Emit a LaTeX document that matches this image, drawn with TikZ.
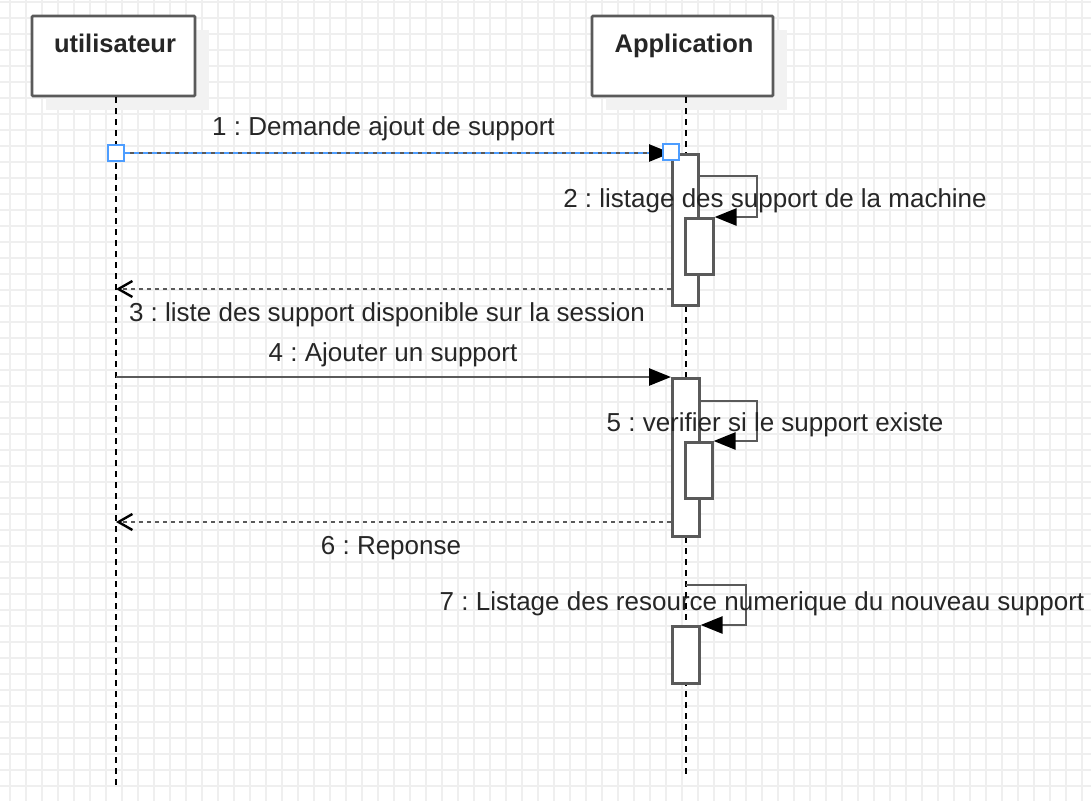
\documentclass[tikz,border=0pt]{standalone}
\usepackage{fontspec}
\setmainfont{Liberation Sans}
\usetikzlibrary{arrows.meta}
\definecolor{gridc}{HTML}{EFEFEF}
\definecolor{linec}{HTML}{5A5A5A}
\definecolor{txtc}{HTML}{262626}
\definecolor{selblue}{HTML}{4D9DFF}
\definecolor{shadowc}{HTML}{F2F2F2}
\frenchspacing
\begin{document}
\begin{tikzpicture}[x=1pt,y=-1pt,
  gridline/.style={draw=gridc,line width=1.6pt},
  participant/.style={draw=linec,fill=white,line width=2.8pt,minimum height=80pt,inner sep=0pt,rounded corners=1pt},
  pshadow/.style={fill=shadowc,minimum height=80pt,inner sep=0pt},
  ptitle/.style={anchor=base,font=\fontsize{25.5}{30}\selectfont\bfseries,text=txtc,inner sep=0pt},
  msglabel/.style={anchor=base,font=\fontsize{26}{30}\selectfont,text=txtc,inner sep=0pt},
  lifeline/.style={draw=black,line width=2.3pt,dash pattern=on 6pt off 5pt},
  bar/.style={draw=linec,fill=white,line width=2.6pt,minimum width=26pt,inner sep=0pt,anchor=north west},
  call/.style={draw=linec,line width=2.6pt,-{Triangle[length=22pt,width=17pt,color=black]}},
  ret/.style={draw=linec,line width=2.4pt,dash pattern=on 4pt off 4pt,-{Straight Barb[length=14pt,width=16pt,color=black]}},
  handle/.style={draw=selblue,fill=white,line width=2pt,minimum size=16pt,inner sep=0pt},
]
\useasboundingbox (0,0) rectangle (1091,801);
\fill[white] (0,0) rectangle (1091,801);
% grid
\foreach \gx in {10,26,...,1090} \draw[gridline] (\gx,0) -- (\gx,801);
\foreach \gy in {2,18,...,800} \draw[gridline] (0,\gy) -- (1091,\gy);

% participants
\node[pshadow,minimum width=163pt] (usershadow) at (127.5,70) {};
\node[pshadow,minimum width=181pt] (appshadow) at (696.5,70) {};
\node[participant,minimum width=163pt] (user) at (113.5,56) {};
\node[participant,minimum width=181pt] (app) at (682.5,56) {};
\node[ptitle] (usertitle) at (115,52) {utilisateur};
\node[ptitle] (apptitle) at (684,52) {Application};

% lifelines
\coordinate (uEnd) at (116,785);
\coordinate (aEnd) at (686,776);
\draw[lifeline] (uEnd |- user.south) -- (uEnd);
\draw[lifeline] (aEnd |- app.south) -- (aEnd);

% activation bars
\node[bar,minimum height=151pt] (bar1) at (671,153) {};
\node[bar,minimum width=28pt,minimum height=56pt] (inA) at (684,217) {};
\node[bar,minimum width=27pt,minimum height=158pt] (bar2) at (671,377) {};
\node[bar,minimum width=27pt,minimum height=56pt] (inB) at (684,441) {};
\node[bar,minimum width=27pt,minimum height=57pt] (bar3) at (671,625) {};

% message coordinates
\coordinate (u1) at (116,153);
\coordinate (u4) at (116,377);
\coordinate (r3a) at (671,289);
\coordinate (r3u) at (116,289);
\coordinate (r6a) at (671,522);
\coordinate (r6u) at (116,522);
\coordinate (s2) at (697,176);
\coordinate (s5) at (698,401);
\coordinate (s7) at (686,585);

% messages
\draw[call] (u1) -- (bar1.north west);
\draw[selblue,line width=1.4pt,dash pattern=on 5pt off 4pt] (u1) -- ([xshift=-22pt]bar1.north west);
\draw[call] (s2) -- ++(60,0) |- (inA.north east);
\draw[ret] (r3a) -- (r3u);
\draw[call] (u4) -- (bar2.north west);
\draw[call] (s5) -- ++(59,0) |- (inB.north east);
\draw[ret] (r6a) -- (r6u);
\draw[call] (s7) -- ++(60,0) |- (bar3.north east);

% selection handles
\node[handle] (h1) at (u1) {};
\node[handle] (h2) at ([yshift=1pt]bar1.north west) {};

% labels
\node[msglabel] (m1) at (383.5,135) {1 : Demande ajout de support};
\node[msglabel] (m2) at (775,207) {2 : listage des support de la machine};
\node[msglabel] (m3) at (387,321) {3 : liste des support disponible sur la session};
\node[msglabel] (m4) at (393,361) {4 : Ajouter un support};
\node[msglabel] (m5) at (775,431) {5 : verifier si le support existe};
\node[msglabel] (m6) at (391,554) {6 : Reponse};
\node[msglabel] (m7) at (762,610) {7 : Listage des resource numerique du nouveau support};
\end{tikzpicture}
\end{document}
